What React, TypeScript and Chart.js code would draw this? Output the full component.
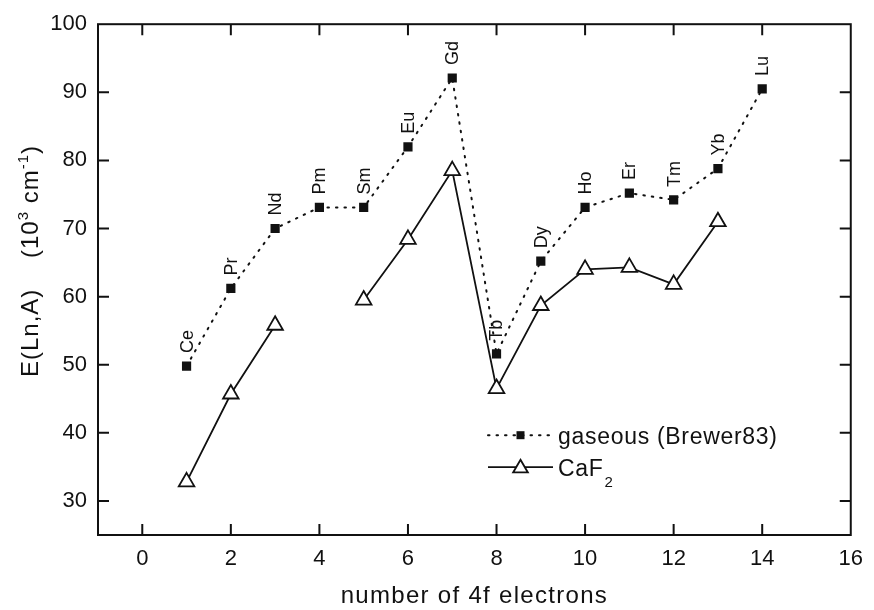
import React, { useEffect, useRef } from "react";
import { Chart, registerables } from "chart.js";

Chart.register(...registerables);

// ---- data ----
const electrons = [1, 2, 3, 4, 5, 6, 7, 8, 9, 10, 11, 12, 13, 14];
const elements = ["Ce", "Pr", "Nd", "Pm", "Sm", "Eu", "Gd", "Tb", "Dy", "Ho", "Er", "Tm", "Yb", "Lu"];
const gaseous = [49.8, 61.2, 70.0, 73.1, 73.1, 82.0, 92.1, 51.6, 65.2, 73.1, 75.2, 74.2, 78.8, 90.5];
const caf2: (number | null)[] = [32.8, 45.7, 55.8, null, 59.5, 68.4, 78.5, 46.5, 58.7, 64.0, 64.3, 61.8, 71.0, null];
const xTicks = [0, 2, 4, 6, 8, 10, 12, 14, 16];
const yTicks = [30, 40, 50, 60, 70, 80, 90, 100];
const seriesNames = ["gaseous (Brewer83)", "CaF"];
const xTitle = "number of 4f electrons";

const FONT = '"Liberation Sans", Arial, Helvetica, sans-serif';
const INK = "#111111";

const decor = {
  id: "decor",
  afterDraw(chart: any) {
    const { ctx, chartArea: a, scales } = chart;
    const xs = scales.x;
    const ys = scales.y;
    ctx.save();
    // frame
    ctx.strokeStyle = INK;
    ctx.lineWidth = 2;
    ctx.strokeRect(a.left, a.top, a.right - a.left, a.bottom - a.top);
    // inward ticks on all four sides
    ctx.beginPath();
    xTicks.forEach((v) => {
      const px = xs.getPixelForValue(v);
      if (px > a.left + 1 && px < a.right - 1) {
        ctx.moveTo(px, a.bottom);
        ctx.lineTo(px, a.bottom - 11);
        ctx.moveTo(px, a.top);
        ctx.lineTo(px, a.top + 11);
      }
    });
    yTicks.forEach((v) => {
      const py = ys.getPixelForValue(v);
      if (py > a.top + 1 && py < a.bottom - 1) {
        ctx.moveTo(a.left, py);
        ctx.lineTo(a.left + 11, py);
        ctx.moveTo(a.right, py);
        ctx.lineTo(a.right - 11, py);
      }
    });
    ctx.stroke();

    // element labels above the gaseous points
    const meta = chart.getDatasetMeta(0);
    ctx.fillStyle = INK;
    ctx.font = `18px ${FONT}`;
    ctx.textAlign = "left";
    ctx.textBaseline = "middle";
    meta.data.forEach((pt: any, i: number) => {
      ctx.save();
      ctx.translate(pt.x + 1, pt.y - 13);
      ctx.rotate(-Math.PI / 2);
      ctx.fillText(elements[i], 0, 0);
      ctx.restore();
    });

    // x title
    ctx.font = `24px ${FONT}`;
    (ctx as any).letterSpacing = "1.3px";
    ctx.textAlign = "center";
    ctx.textBaseline = "alphabetic";
    ctx.fillText(xTitle, (a.left + a.right) / 2, a.bottom + 68);

    // y title with superscripts
    ctx.save();
    ctx.translate(a.left - 60, a.bottom - 158);
    ctx.rotate(-Math.PI / 2);
    ctx.textAlign = "left";
    (ctx as any).letterSpacing = "1px";
    let cx = 0;
    const seg = (t: string, size: number, dy: number) => {
      ctx.font = `${size}px ${FONT}`;
      ctx.fillText(t, cx, dy);
      cx += ctx.measureText(t).width;
    };
    seg("E(Ln,A)", 24, 0);
    seg("    (10", 24, 0);
    seg("3", 15, -10);
    seg(" cm", 24, 0);
    seg("-1", 15, -10);
    seg(")", 24, 0);
    ctx.restore();

    // legend
    const lx0 = a.left + 390;
    const lx1 = a.left + 455;
    const lmx = (lx0 + lx1) / 2;
    const ly1 = a.top + 411;
    const ly2 = a.top + 443;
    ctx.lineWidth = 2;
    ctx.setLineDash([1.5, 7]);
    ctx.lineCap = "round";
    ctx.beginPath();
    ctx.moveTo(lx0, ly1);
    ctx.lineTo(lx1, ly1);
    ctx.stroke();
    ctx.setLineDash([]);
    ctx.lineCap = "butt";
    ctx.fillRect(lmx - 4, ly1 - 4, 8, 8);
    ctx.lineWidth = 1.8;
    ctx.beginPath();
    ctx.moveTo(lx0, ly2);
    ctx.lineTo(lx1, ly2);
    ctx.stroke();
    const r = 8.5;
    const ty = ly2 + 1;
    ctx.beginPath();
    ctx.moveTo(lmx, ty - r);
    ctx.lineTo(lmx + r * 0.866, ty + r / 2);
    ctx.lineTo(lmx - r * 0.866, ty + r / 2);
    ctx.closePath();
    ctx.fillStyle = "#fff";
    ctx.fill();
    ctx.stroke();
    ctx.fillStyle = INK;
    ctx.textAlign = "left";
    ctx.textBaseline = "alphabetic";
    (ctx as any).letterSpacing = "0.7px";
    ctx.font = `23px ${FONT}`;
    ctx.fillText(seriesNames[0], lx1 + 5, ly1 + 9);
    ctx.fillText(seriesNames[1], lx1 + 5, ly2 + 9);
    const w = ctx.measureText(seriesNames[1]).width;
    ctx.font = `15px ${FONT}`;
    ctx.fillText("2", lx1 + 6 + w, ly2 + 20);
    (ctx as any).letterSpacing = "0px";
    ctx.restore();
  },
};

export default function App() {
  const ref = useRef<HTMLCanvasElement | null>(null);
  useEffect(() => {
    if (!ref.current) return;
    const chart = new Chart(ref.current, {
      type: "line",
      data: {
        datasets: [
          {
            label: seriesNames[0],
            data: electrons.map((x, i) => ({ x, y: gaseous[i] })),
            borderColor: INK,
            borderWidth: 2,
            borderDash: [1.5, 7],
            borderCapStyle: "round",
            pointStyle: "rect",
            pointRadius: 6.5,
            pointBackgroundColor: INK,
            pointBorderWidth: 0,
            pointBorderColor: INK,
            tension: 0,
          },
          {
            label: "CaF2",
            data: electrons.map((x, i) => ({ x, y: caf2[i] })),
            borderColor: INK,
            borderWidth: 1.8,
            pointStyle: "triangle",
            pointRadius: 9,
            pointBackgroundColor: "#fff",
            pointBorderColor: INK,
            pointBorderWidth: 1.8,
            spanGaps: false,
            tension: 0,
          },
        ],
      } as any,
      options: {
        animation: false,
        responsive: true,
        maintainAspectRatio: false,
        layout: { padding: { top: 16, right: 14, left: 0, bottom: 0 } },
        plugins: { legend: { display: false }, tooltip: { enabled: false } },
        scales: {
          x: {
            type: "linear",
            min: -1,
            max: 16,
            afterBuildTicks: (s: any) => {
              s.ticks = xTicks.map((v) => ({ value: v }));
            },
            afterFit: (s: any) => {
              s.height = 75;
            },
            grid: { display: false, drawTicks: false },
            border: { display: false },
            ticks: {
              color: INK,
              font: { family: FONT, size: 22 },
              padding: 11,
              maxRotation: 0,
              autoSkip: false,
            },
          },
          y: {
            type: "linear",
            min: 25,
            max: 100,
            afterBuildTicks: (s: any) => {
              s.ticks = yTicks.map((v) => ({ value: v }));
            },
            afterFit: (s: any) => {
              s.width = 98;
            },
            grid: { display: false, drawTicks: false },
            border: { display: false },
            ticks: {
              color: INK,
              font: { family: FONT, size: 22 },
              padding: 11,
              autoSkip: false,
            },
          },
        },
      } as any,
      plugins: [decor],
    });
    return () => chart.destroy();
  }, []);
  return (
    <div style={{ position: "absolute", left: 0, top: 0, width: 874, height: 610, background: "#fff" }}>
      <canvas ref={ref} />
    </div>
  );
}
